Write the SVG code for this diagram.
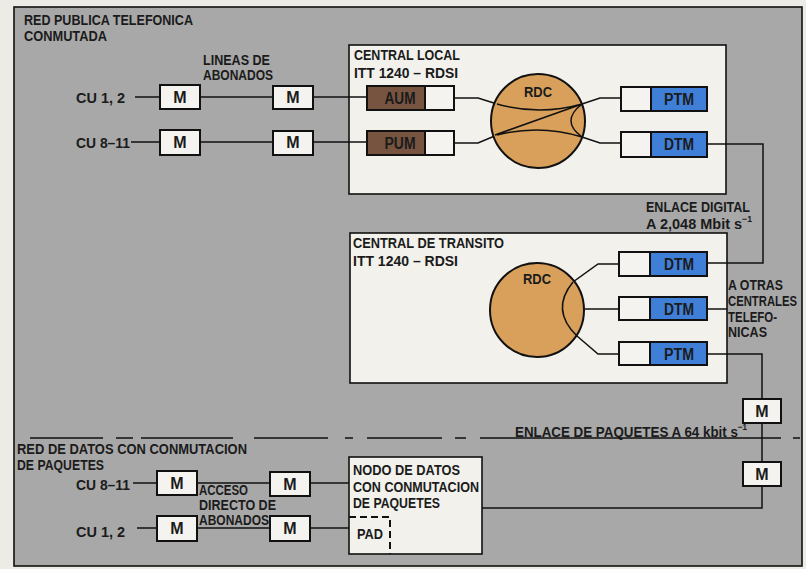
<svg xmlns="http://www.w3.org/2000/svg" width="806" height="569" viewBox="0 0 806 569">
<style>
text{font-family:"Liberation Sans",Arial,sans-serif;font-weight:bold;font-size:15px;fill:#1b1b1b}
.sm{font-size:14px}
.lbl{font-size:16px;text-anchor:middle}
.box{fill:#f4f3ef;stroke:#111;stroke-width:2}
.panel{fill:#f2f1ec;stroke:#111;stroke-width:1.6}
.brown{fill:#76543f;stroke:#111;stroke-width:2}
.blue{fill:#3f7fd8;stroke:#111;stroke-width:2}
.rdc{fill:#d9a05c;stroke:#111;stroke-width:2}
.ln{fill:none;stroke:#111;stroke-width:1.5}
.dash{fill:none;stroke:#111;stroke-width:1.5}
.sup{font-size:9px}
</style>
<rect x="0" y="0" width="806" height="569" fill="#ecebe6"/>
<rect id="frame" x="14" y="7" width="788" height="559" fill="#a8a8a8" stroke="#111" stroke-width="1.6"/>

<g id="titles">
<text x="24" y="25" textLength="169" lengthAdjust="spacingAndGlyphs">RED PUBLICA TELEFONICA</text>
<text x="24" y="41" textLength="83" lengthAdjust="spacingAndGlyphs">CONMUTADA</text>
<text x="203" y="65" textLength="67" lengthAdjust="spacingAndGlyphs">LINEAS DE</text>
<text x="203" y="80" textLength="70" lengthAdjust="spacingAndGlyphs">ABONADOS</text>
<text x="76" y="103" textLength="49" lengthAdjust="spacingAndGlyphs">CU 1, 2</text>
<text x="76" y="148" textLength="54" lengthAdjust="spacingAndGlyphs">CU 8–11</text>
<text x="646" y="212" textLength="104" lengthAdjust="spacingAndGlyphs">ENLACE DIGITAL</text>
<text x="646" y="229" textLength="106" lengthAdjust="spacingAndGlyphs">A 2,048 Mbit s<tspan class="sup" dy="-7">−1</tspan></text>
<text x="728" y="290" textLength="55" lengthAdjust="spacingAndGlyphs">A OTRAS</text>
<text x="728" y="306" textLength="69" lengthAdjust="spacingAndGlyphs">CENTRALES</text>
<text x="728" y="322" textLength="49" lengthAdjust="spacingAndGlyphs">TELEFO-</text>
<text x="728" y="337" textLength="39" lengthAdjust="spacingAndGlyphs">NICAS</text>
<text x="515" y="437" textLength="232" lengthAdjust="spacingAndGlyphs">ENLACE DE PAQUETES A 64 kbit s<tspan class="sup" dy="-7">−1</tspan></text>
<text x="17" y="454" textLength="230" lengthAdjust="spacingAndGlyphs">RED DE DATOS CON CONMUTACION</text>
<text x="17" y="470" textLength="87" lengthAdjust="spacingAndGlyphs">DE PAQUETES</text>
<text x="76" y="490" textLength="54" lengthAdjust="spacingAndGlyphs">CU 8–11</text>
<text x="76" y="537" textLength="49" lengthAdjust="spacingAndGlyphs">CU 1, 2</text>
<text class="sm" x="199" y="495" textLength="49" lengthAdjust="spacingAndGlyphs">ACCESO</text>
<text class="sm" x="199" y="510" textLength="77" lengthAdjust="spacingAndGlyphs">DIRECTO DE</text>
<text class="sm" x="199" y="525" textLength="70" lengthAdjust="spacingAndGlyphs">ABONADOS</text>
</g>

<g id="separator" class="dash">
<path d="M30 438H103M116 438H133M141 438H233M254 438H328M345 438H353M367 438H442M455 438H466M480 438H781M793 438H800"/>
</g>

<g id="central-local">
<rect class="panel" x="349" y="45" width="377" height="149"/>
<text x="354" y="60" textLength="106" lengthAdjust="spacingAndGlyphs">CENTRAL LOCAL</text>
<text x="354" y="78" textLength="104" lengthAdjust="spacingAndGlyphs">ITT 1240 – RDSI</text>
</g>
<g id="central-transito">
<rect class="panel" x="350" y="233" width="377" height="150"/>
<text x="353" y="248" textLength="151" lengthAdjust="spacingAndGlyphs">CENTRAL DE TRANSITO</text>
<text x="353" y="266" textLength="105" lengthAdjust="spacingAndGlyphs">ITT 1240 – RDSI</text>
</g>
<g id="nodo-datos">
<rect class="panel" x="349" y="457" width="133" height="97"/>
<text x="353" y="475" textLength="107" lengthAdjust="spacingAndGlyphs">NODO DE DATOS</text>
<text x="353" y="492" textLength="126" lengthAdjust="spacingAndGlyphs">CON CONMUTACION</text>
<text x="353" y="508" textLength="87" lengthAdjust="spacingAndGlyphs">DE PAQUETES</text>
</g>
<g id="pad">
<path d="M349 517H390V554" fill="none" stroke="#111" stroke-width="2" stroke-dasharray="7 4"/>
<text x="357" y="539" textLength="26" lengthAdjust="spacingAndGlyphs">PAD</text>
</g>

<g id="connectors" class="ln">
<path d="M135 97H160M200 97H273M313 97H367"/>
<path d="M131 142H160M200 142H273M313 142H367"/>
<path d="M454 98H478L497 104Q540 116 582 104L600 98H621"/>
<path d="M454 143H478L497 135Q540 124 582 137L600 143H621"/>
<path d="M707 144H763V263H707"/>
<path d="M619 264H598L573 282Q550 310 577 336L598 354H619"/>
<path d="M585 309H619"/>
<path d="M707 309H727"/>
<path d="M707 354H762V399M762 423V462M762 486V508H482"/>
<path d="M133 483H157M197 483H270M310 483H349"/>
<path d="M137 528H157M197 528H270M310 528H349"/>
</g>

<g id="m-cu12-a"><rect class="box" x="160" y="85" width="40" height="24"/><text class="lbl" x="180" y="103">M</text></g>
<g id="m-cu12-b"><rect class="box" x="273" y="86" width="40" height="23"/><text class="lbl" x="293" y="103">M</text></g>
<g id="m-cu811-a"><rect class="box" x="160" y="130" width="40" height="25"/><text class="lbl" x="180" y="148">M</text></g>
<g id="m-cu811-b"><rect class="box" x="273" y="131" width="40" height="24"/><text class="lbl" x="293" y="148">M</text></g>

<g id="aum"><rect class="brown" x="367" y="86" width="58" height="24"/><rect class="box" x="425" y="86" width="29" height="24"/><text class="lbl" x="400" y="104" textLength="31" lengthAdjust="spacingAndGlyphs">AUM</text></g>
<g id="pum"><rect class="brown" x="367" y="131" width="58" height="24"/><rect class="box" x="425" y="131" width="29" height="24"/><text class="lbl" x="400" y="149" textLength="31" lengthAdjust="spacingAndGlyphs">PUM</text></g>

<g id="rdc-local"><circle class="rdc" cx="538" cy="121" r="47"/><text class="lbl" x="538" y="97" style="font-size:15px" textLength="28" lengthAdjust="spacingAndGlyphs">RDC</text></g>
<path class="ln" d="M497 104Q540 116 582 104M497 135Q540 124 582 137M495 135L582 104M582 104Q560 121 582 137"/>

<g id="ptm-local"><rect class="box" x="621" y="87" width="30" height="24"/><rect class="blue" x="651" y="87" width="56" height="24"/><text class="lbl" x="679" y="105" textLength="30" lengthAdjust="spacingAndGlyphs">PTM</text></g>
<g id="dtm-local"><rect class="box" x="621" y="132" width="30" height="25"/><rect class="blue" x="651" y="132" width="56" height="25"/><text class="lbl" x="679" y="150" textLength="30" lengthAdjust="spacingAndGlyphs">DTM</text></g>

<g id="rdc-transito"><circle class="rdc" cx="537" cy="310" r="47"/><text class="lbl" x="537" y="284" style="font-size:15px" textLength="28" lengthAdjust="spacingAndGlyphs">RDC</text></g>
<path class="ln" d="M573 282Q550 310 577 336"/>

<g id="dtm-t1"><rect class="box" x="619" y="252" width="31" height="24"/><rect class="blue" x="650" y="252" width="57" height="24"/><text class="lbl" x="679" y="270" textLength="30" lengthAdjust="spacingAndGlyphs">DTM</text></g>
<g id="dtm-t2"><rect class="box" x="619" y="297" width="31" height="23"/><rect class="blue" x="650" y="297" width="57" height="23"/><text class="lbl" x="679" y="315" textLength="30" lengthAdjust="spacingAndGlyphs">DTM</text></g>
<g id="ptm-t"><rect class="box" x="619" y="342" width="31" height="23"/><rect class="blue" x="650" y="342" width="57" height="23"/><text class="lbl" x="679" y="360" textLength="30" lengthAdjust="spacingAndGlyphs">PTM</text></g>

<g id="m-link-a"><rect class="box" x="743" y="399" width="38" height="24"/><text class="lbl" x="762" y="417">M</text></g>
<g id="m-link-b"><rect class="box" x="743" y="462" width="38" height="24"/><text class="lbl" x="762" y="480">M</text></g>

<g id="m-d811-a"><rect class="box" x="157" y="471" width="40" height="24"/><text class="lbl" x="177" y="489">M</text></g>
<g id="m-d811-b"><rect class="box" x="270" y="472" width="40" height="24"/><text class="lbl" x="290" y="490">M</text></g>
<g id="m-d12-a"><rect class="box" x="157" y="516" width="40" height="25"/><text class="lbl" x="177" y="534">M</text></g>
<g id="m-d12-b"><rect class="box" x="270" y="516" width="40" height="25"/><text class="lbl" x="290" y="534">M</text></g>
</svg>
